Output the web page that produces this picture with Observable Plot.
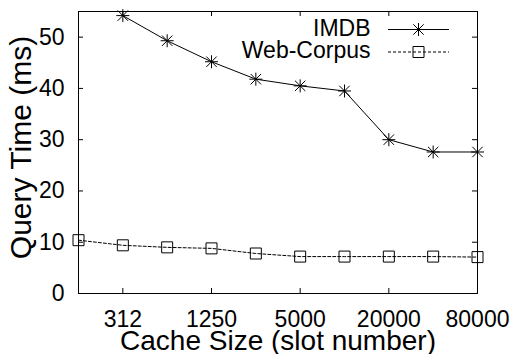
<!DOCTYPE html>
<html><head><meta charset="utf-8">
<script src="https://cdn.jsdelivr.net/npm/d3@7"></script>
<script src="https://cdn.jsdelivr.net/npm/@observablehq/plot@0.6"></script>
<style>
body{margin:0;background:#fff;}
#chart{width:516px;height:354px;}
</style></head><body><div id="chart"></div>
<script>
const cacheSizes = [156.25, 312.5, 625, 1250, 2500, 5000, 10000, 20000, 40000, 80000];
const imdb = [null, 54.2, 49.3, 45.2, 41.8, 40.5, 39.5, 30.0, 27.6, 27.6];
const webCorpus = [10.4, 9.4, 9.0, 8.8, 7.8, 7.2, 7.2, 7.2, 7.2, 7.1];
const xTicks = [312.5, 1250, 5000, 20000, 80000];
const xTickLabels = ["312", "1250", "5000", "20000", "80000"];
const yTicks = [0, 10, 20, 30, 40, 50];
const seriesNames = ["IMDB", "Web-Corpus"];
const xTitle = "Cache Size (slot number)";
const yTitle = "Query Time (ms)";

const imdbRows = cacheSizes.map((x, i) => ({x, y: imdb[i]})).filter(d => d.y != null);
const webRows = cacheSizes.map((x, i) => ({x, y: webCorpus[i]}));

const W = 516, H = 354;
const mL = 78, mR = 39, mT = 11, mB = 61;
const pw = W - mL - mR, ph = H - mT - mB;
const tick = 5;

const star = {draw(ctx, size) {
  const r = Math.sqrt(size / Math.PI);
  const d = r * 0.8;
  ctx.moveTo(-r, 0); ctx.lineTo(r, 0);
  ctx.moveTo(0, -r); ctx.lineTo(0, r);
  ctx.moveTo(-d, -d); ctx.lineTo(d, d);
  ctx.moveTo(-d, d); ctx.lineTo(d, -d);
}};
const box = {draw(ctx, size) {
  const r = Math.sqrt(size / Math.PI);
  ctx.moveTo(-r, -r); ctx.lineTo(r, -r); ctx.lineTo(r, r); ctx.lineTo(-r, r); ctx.closePath();
}};
const hline = {draw(ctx, size) {
  const r = Math.sqrt(size / Math.PI);
  ctx.moveTo(-r, 0); ctx.lineTo(r, 0);
}};

const font = "'Liberation Sans', Arial, Helvetica, sans-serif";

const chart = Plot.plot({
  width: W, height: H,
  marginLeft: mL, marginRight: mR, marginTop: mT, marginBottom: mB,
  style: {fontFamily: font, background: "white", color: "black", overflow: "visible"},
  x: {type: "log", base: 2, domain: [156.25, 80000]},
  y: {domain: [0, 55]},
  marks: [
    Plot.axisX({ticks: xTicks, tickFormat: (d) => xTickLabels[xTicks.indexOf(d)], tickSize: 0, tickPadding: 17, fontSize: 23, label: null}),
    Plot.axisY({ticks: yTicks, tickSize: 0, tickPadding: 14, fontSize: 23, label: null}),
    Plot.ruleX(xTicks, {x: d => d, insetTop: ph - tick, stroke: "black"}),
    Plot.ruleX(xTicks, {x: d => d, insetBottom: ph - tick, stroke: "black"}),
    Plot.ruleY(yTicks, {y: d => d, insetRight: pw - tick, stroke: "black"}),
    Plot.ruleY(yTicks, {y: d => d, insetLeft: pw - tick, stroke: "black"}),
    Plot.line(imdbRows, {x: "x", y: "y", stroke: "black", strokeWidth: 1, clip: true}),
    Plot.line(webRows, {x: "x", y: "y", stroke: "black", strokeWidth: 1, strokeDasharray: "3,2"}),
    Plot.dot(imdbRows, {x: "x", y: "y", symbol: star, r: 6.5, stroke: "black", strokeWidth: 1}),
    Plot.dot(webRows, {x: "x", y: "y", symbol: box, r: 5.5, stroke: "black", fill: "none", strokeWidth: 1}),
    Plot.frame({stroke: "black", strokeWidth: 1}),
    // legend
    Plot.text([seriesNames[0]], {text: d => d, frameAnchor: "top-right", dx: -107, dy: 17, textAnchor: "end", lineAnchor: "middle", fontSize: 23, fill: "black"}),
    Plot.text([seriesNames[1]], {text: d => d, frameAnchor: "top-right", dx: -107, dy: 39, textAnchor: "end", lineAnchor: "middle", fontSize: 23, fill: "black"}),
    Plot.dot([seriesNames[0]], {frameAnchor: "top-right", dx: -59, dy: 18, symbol: hline, r: 30.5, stroke: "black", strokeWidth: 1}),
    Plot.dot([seriesNames[0]], {frameAnchor: "top-right", dx: -59, dy: 18, symbol: star, r: 6.5, stroke: "black", strokeWidth: 1}),
    Plot.dot([seriesNames[1]], {frameAnchor: "top-right", dx: -59, dy: 40.5, symbol: hline, r: 30.5, stroke: "black", strokeWidth: 1, strokeDasharray: "3,2"}),
    Plot.dot([seriesNames[1]], {frameAnchor: "top-right", dx: -59, dy: 40.5, symbol: box, r: 5.5, stroke: "black", fill: "none", strokeWidth: 1}),
    // axis titles
    Plot.text([xTitle], {text: d => d, frameAnchor: "bottom", dy: 48, textAnchor: "middle", lineAnchor: "middle", fontSize: 28, fill: "black"}),
    Plot.text([yTitle], {text: d => d, frameAnchor: "left", dx: -57, dy: -5, rotate: -90, textAnchor: "middle", lineAnchor: "middle", fontSize: 30, fill: "black"})
  ]
});
document.getElementById("chart").appendChild(chart);
</script>
</body></html>
